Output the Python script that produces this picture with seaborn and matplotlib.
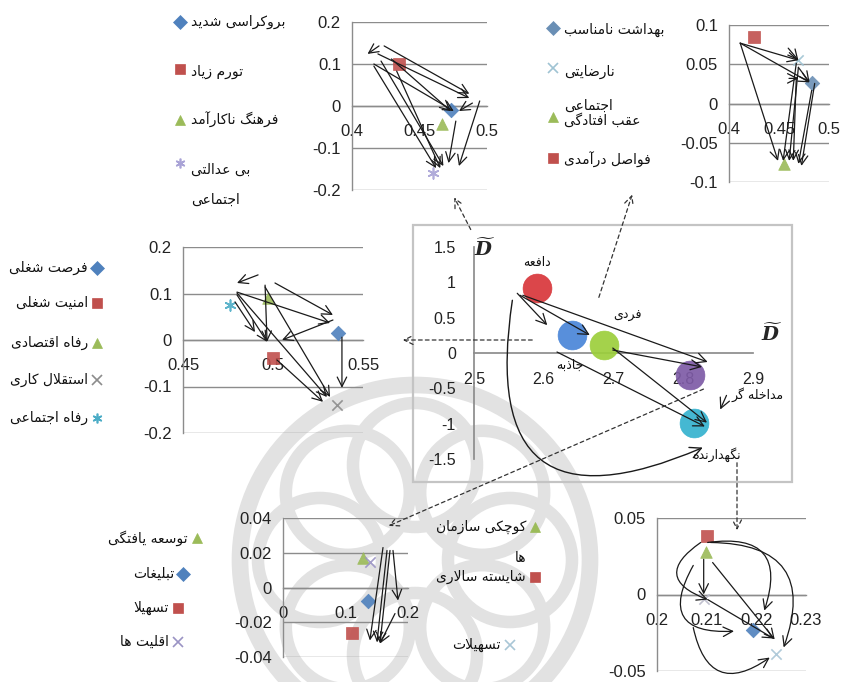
import matplotlib
matplotlib.use('Agg')
import numpy as np
import pandas as pd
import matplotlib.pyplot as plt
import seaborn as sns
from matplotlib.lines import Line2D
from matplotlib.patches import FancyArrowPatch, Rectangle, Circle

sns.set_theme(style='white')
plt.rcParams['font.family'] = ['Liberation Sans', 'DejaVu Sans']
plt.rcParams['mathtext.fontset'] = 'custom'
plt.rcParams['mathtext.bf'] = 'DejaVu Serif:italic:bold'
plt.rcParams['mathtext.rm'] = 'DejaVu Serif'
plt.rcParams['mathtext.it'] = 'DejaVu Serif:italic'

# ------------------------------------------------------------------ data
BLUE, RED, GREEN, PURPLE, TEAL, GREYX = '#4F81BD', '#C0504D', '#9BBB59', '#A9A3D6', '#4BACC6', '#8C8C8C'

# central chart
c_labels = ['دافعه', 'جاذبه', 'فردی', 'مداخله گر', 'نگهدارنده']
c_x = [2.59, 2.64, 2.687, 2.809, 2.816]
c_y = [0.92, 0.25, 0.11, -0.31, -0.985]
c_colors = ['#D8363A', '#4A86D8', '#9CCF3C', '#7E5BA6', '#35B2CF']
c_xticks = [2.5, 2.6, 2.7, 2.8, 2.9]
c_yticks = [1.5, 1, 0.5, 0, -0.5, -1, -1.5]
c_arrows = [(2.562, 0.845, 2.605, 0.394), (2.566, 0.817, 2.666, 0.254),
            (2.570, 0.817, 2.835, -0.127), (2.699, 0.042, 2.827, -0.197),
            (2.699, 0.07, 2.834, -0.986), (2.619, 0.014, 2.831, -1.04),
            (2.862, -0.60, 2.853, -0.80)]
c_curve = (2.555, 0.746, 2.828, -1.338)

# panel 1 (top middle)
p1_labels = ['بروکراسی شدید', 'تورم زیاد', 'فرهنگ ناکارآمد', 'بی عدالتی\nاجتماعی']
p1_x = [0.4731, 0.4346, 0.4669, 0.460]
p1_y = [-0.0095, 0.100, -0.043, -0.160]
p1_markers = ['D', 's', '^', (6, 2, 0)]
p1_colors = [BLUE, RED, GREEN, PURPLE]
p1_xticks = [0.4, 0.45, 0.5]
p1_yticks = [0.2, 0.1, 0, -0.1, -0.2]
p1_arrows = [(0.420, 0.143, 0.4115, 0.124), (0.4238, 0.143, 0.4869, 0.029),
             (0.4192, 0.124, 0.4869, 0.019), (0.4162, 0.100, 0.4754, -0.012),
             (0.4292, 0.112, 0.4731, -0.012), (0.4162, 0.095, 0.4623, -0.148),
             (0.4215, 0.107, 0.4677, -0.143), (0.4331, 0.083, 0.4654, -0.148),
             (0.4946, 0.012, 0.4792, -0.143), (0.4769, -0.036, 0.4715, -0.136),
             (0.4892, 0.007, 0.4792, -0.012)]

# panel 2 (top right)
p2_labels = ['بهداشت نامناسب', 'نارضایتی', 'اجتماعی\nعقب افتادگی', 'فواصل درآمدی']
p2_x = [0.4827, 0.4694, 0.4551, 0.4245]
p2_y = [0.0256, 0.055, -0.077, 0.0846]
p2_markers = ['D', 'x', '^', 's']
p2_colors = ['#6A8FB5', '#9FC3D3', GREEN, RED]
p2_xticks = [0.4, 0.45, 0.5]
p2_yticks = [0.1, 0.05, 0, -0.05, -0.1]
p2_arrows = [(0.4112, 0.0769, 0.4694, 0.0551), (0.4112, 0.0769, 0.4806, 0.0269),
             (0.4112, 0.0769, 0.4490, -0.0731), (0.4592, 0.0705, 0.4694, 0.0550),
             (0.4673, 0.0513, 0.4541, -0.0731), (0.4694, 0.0462, 0.4602, -0.0731),
             (0.4694, 0.0460, 0.4806, 0.0270), (0.4600, 0.0320, 0.4694, 0.0320),
             (0.4827, 0.0167, 0.4694, -0.0769), (0.4857, 0.0256, 0.4724, -0.0795),
             (0.4673, 0.0330, 0.4643, -0.0730)]

# panel 3 (middle left)
p3_labels = ['فرصت شغلی', 'امنیت شغلی', 'رفاه اقتصادی', 'استقلال کاری', 'رفاه اجتماعی']
p3_x = [0.5361, 0.500, 0.4972, 0.5356, 0.4761]
p3_y = [0.015, -0.039, 0.090, -0.140, 0.075]
p3_markers = ['D', 's', '^', 'x', (6, 2, 0)]
p3_colors = [BLUE, RED, GREEN, GREYX, TEAL]
p3_xticks = [0.45, 0.5, 0.55]
p3_yticks = [0.2, 0.1, 0, -0.1, -0.2]
p3_arrows = [(0.4917, 0.140, 0.4800, 0.1226), (0.5011, 0.1226, 0.5333, 0.0538),
             (0.4800, 0.103, 0.5317, 0.0366), (0.4789, 0.082, 0.4900, 0.017),
             (0.4800, 0.097, 0.4967, -0.004), (0.4800, 0.101, 0.5300, -0.1226),
             (0.4956, 0.118, 0.4967, -0.004), (0.4956, 0.114, 0.5317, -0.1226),
             (0.5333, 0.043, 0.5050, 0.000), (0.5383, 0.006, 0.5383, -0.103),
             (0.5022, -0.043, 0.5278, -0.133)]

# panel 4 (bottom left)
p4_labels = ['توسعه یافتگی', 'تبلیغات', 'تسهیلا', 'اقلیت ها']
p4_x = [0.128, 0.136, 0.110, 0.139]
p4_y = [0.0167, -0.0075, -0.026, 0.0144]
p4_markers = ['^', 'D', 's', 'x']
p4_colors = [GREEN, BLUE, RED, '#9A93C4']
p4_xticks = [0, 0.1, 0.2]
p4_yticks = [0.04, 0.02, 0, -0.02, -0.04]
p4_arrows = [(0.160, 0.023, 0.139, -0.0305), (0.1664, 0.0213, 0.1504, -0.0316),
             (0.176, 0.0213, 0.184, -0.0075), (0.1792, -0.015, 0.1552, -0.0322),
             (0.1712, 0.0213, 0.1552, -0.0322)]

# panel 5 (bottom right)
p5_labels = ['کوچکی سازمان\nها', 'شایسته سالاری', '', 'تسهیلات', '']
p5_x = [0.2098, 0.2100, 0.2194, 0.2240, 0.2094]
p5_y = [0.028, 0.038, -0.023, -0.039, -0.003]
p5_markers = ['^', 's', 'D', 'x', 'x']
p5_colors = [GREEN, RED, BLUE, '#A9C6D6', '#B9B9C9']
p5_xticks = [0.2, 0.21, 0.22, 0.23]
p5_yticks = [0.05, 0, -0.05]
p5_arrows = [(0.2094, 0.023, 0.2094, 0.0), (0.2112, 0.0209, 0.2237, -0.0294),
             (0.2102, -0.0033, 0.2235, -0.0288)]
p5_curves = [(0.2102, 0.034, 0.2216, -0.0105, -0.8), (0.2108, 0.034, 0.2255, -0.0346, -0.7),
             (0.2088, 0.034, 0.2102, -0.0033, 0.95), (0.2073, 0.019, 0.2155, -0.024, 0.9),
             (0.2073, -0.0216, 0.2227, -0.0412, 0.75)]

# ------------------------------------------------------------------ helpers
_F = {
 'ا': ('\uFE8D', '\uFE8E', None, None), 'آ': ('\uFE81', '\uFE82', None, None),
 'ب': ('\uFE8F', '\uFE90', '\uFE91', '\uFE92'), 'پ': ('\uFB56', '\uFB57', '\uFB58', '\uFB59'),
 'ت': ('\uFE95', '\uFE96', '\uFE97', '\uFE98'), 'ث': ('\uFE99', '\uFE9A', '\uFE9B', '\uFE9C'),
 'ج': ('\uFE9D', '\uFE9E', '\uFE9F', '\uFEA0'), 'چ': ('\uFB7A', '\uFB7B', '\uFB7C', '\uFB7D'),
 'ح': ('\uFEA1', '\uFEA2', '\uFEA3', '\uFEA4'), 'خ': ('\uFEA5', '\uFEA6', '\uFEA7', '\uFEA8'),
 'د': ('\uFEA9', '\uFEAA', None, None), 'ذ': ('\uFEAB', '\uFEAC', None, None),
 'ر': ('\uFEAD', '\uFEAE', None, None), 'ز': ('\uFEAF', '\uFEB0', None, None),
 'ژ': ('\uFB8A', '\uFB8B', None, None),
 'س': ('\uFEB1', '\uFEB2', '\uFEB3', '\uFEB4'), 'ش': ('\uFEB5', '\uFEB6', '\uFEB7', '\uFEB8'),
 'ص': ('\uFEB9', '\uFEBA', '\uFEBB', '\uFEBC'), 'ض': ('\uFEBD', '\uFEBE', '\uFEBF', '\uFEC0'),
 'ط': ('\uFEC1', '\uFEC2', '\uFEC3', '\uFEC4'), 'ظ': ('\uFEC5', '\uFEC6', '\uFEC7', '\uFEC8'),
 'ع': ('\uFEC9', '\uFECA', '\uFECB', '\uFECC'), 'غ': ('\uFECD', '\uFECE', '\uFECF', '\uFED0'),
 'ف': ('\uFED1', '\uFED2', '\uFED3', '\uFED4'), 'ق': ('\uFED5', '\uFED6', '\uFED7', '\uFED8'),
 'ک': ('\uFB8E', '\uFB8F', '\uFB90', '\uFB91'), 'گ': ('\uFB92', '\uFB93', '\uFB94', '\uFB95'),
 'ل': ('\uFEDD', '\uFEDE', '\uFEDF', '\uFEE0'), 'م': ('\uFEE1', '\uFEE2', '\uFEE3', '\uFEE4'),
 'ن': ('\uFEE5', '\uFEE6', '\uFEE7', '\uFEE8'), 'و': ('\uFEED', '\uFEEE', None, None),
 'ه': ('\uFEE9', '\uFEEA', '\uFEEB', '\uFEEC'), 'ی': ('\uFBFC', '\uFBFD', '\uFBFE', '\uFBFF'),
}
_DUAL = {k for k, v in _F.items() if v[2] is not None}


def fa(s):
    lines = []
    for line in s.split('\n'):
        res, i, n = [], 0, len(line)
        while i < n:
            c = line[i]
            if c not in _F:
                res.append(c); i += 1; continue
            jp = i > 0 and line[i - 1] in _DUAL
            if c == 'ل' and i + 1 < n and line[i + 1] in 'اآ':
                lig = {'ا': ('\uFEFB', '\uFEFC'), 'آ': ('\uFEF5', '\uFEF6')}[line[i + 1]]
                res.append(lig[1] if jp else lig[0]); i += 2; continue
            jn = c in _DUAL and i + 1 < n and line[i + 1] in _F
            iso, fin, ini, med = _F[c]
            res.append(med if jp and jn else fin if jp else ini if jn else iso)
            i += 1
        lines.append(''.join(reversed(res)))
    return '\n'.join(lines)


W, H = 843, 682
fig = plt.figure(figsize=(W / 100, H / 100), dpi=100)
fig.patch.set_facecolor('white')
GRID = '#8C8C8C'
FA_FONT = ['DejaVu Sans']


def FX(px):
    return px / W


def FY(py):
    return 1 - py / H


def axes_px(x0, y0, x1, y1):
    a = fig.add_axes([x0 / W, 1 - y1 / H, (x1 - x0) / W, (y1 - y0) / H])
    a.set_facecolor('none')
    return a


# watermark rosette (light grey rings)
WM = '#e2e2e2'
for ang in np.linspace(0, 2 * np.pi, 8, endpoint=False):
    cx, cy = 415 + 95 * np.cos(ang), 560 + 95 * np.sin(ang)
    fig.add_artist(Circle((cx / 100, (H - cy) / 100), 0.62, transform=fig.dpi_scale_trans,
                          fill=False, lw=9, ec=WM, zorder=-5))
fig.add_artist(Circle((415 / 100, (H - 560) / 100), 1.75, transform=fig.dpi_scale_trans,
                      fill=False, lw=12, ec=WM, zorder=-5))


def style_panel(ax, xlim, ylim, xt, yt, fs=12):
    ax.set_xlim(*xlim); ax.set_ylim(*ylim)
    for s in ['top', 'right']:
        ax.spines[s].set_visible(False)
    ax.spines['left'].set_color(GRID); ax.spines['left'].set_linewidth(1.0)
    ax.spines['bottom'].set_position(('data', 0))
    ax.spines['bottom'].set_color(GRID); ax.spines['bottom'].set_linewidth(1.0)
    ax.set_xticks(xt); ax.set_xticklabels([f'{v:g}' for v in xt])
    ax.set_yticks(yt); ax.set_yticklabels([f'{v:g}' for v in yt])
    ax.grid(False)
    ax.yaxis.grid(True, color=GRID, lw=1.0)
    ax.tick_params(axis='x', length=3, color=GRID, pad=10, labelsize=fs, labelcolor='#222222')
    ax.tick_params(axis='y', length=0, pad=8, labelsize=fs, labelcolor='#222222')
    ax.set_xlabel(''); ax.set_ylabel('')


def draw_points(ax, xs, ys, markers, colors):
    for xv, yv, m, c in zip(xs, ys, markers, colors):
        filled = m in ('D', 's', '^')
        size = {'D': 55, 's': 80, '^': 70}.get(m, 55) if not isinstance(m, tuple) else 60
        kw = dict(edgecolor=c, linewidth=0.5) if filled else dict(linewidth=1.2)
        sns.scatterplot(x=[xv], y=[yv], marker=m, color=c, s=size, ax=ax, legend=False,
                        alpha=0.9, zorder=3, **kw)


def draw_arrows(ax, arrows, ms=17):
    for a in arrows:
        x0, y0, x1, y1 = a[:4]
        cs = f'arc3,rad={a[4]}' if len(a) > 4 else 'arc3,rad=0'
        ax.annotate('', xy=(x1, y1), xytext=(x0, y0), annotation_clip=False,
                    arrowprops=dict(arrowstyle='->', color='#1a1a1a', lw=0.9,
                                    mutation_scale=ms, shrinkA=0, shrinkB=0,
                                    connectionstyle=cs), zorder=4)


def legend_px(labels, markers, colors, mx, my, ty, side, gap, fs=10):
    for i, lab in enumerate(labels):
        if not lab:
            continue
        fig.add_artist(Line2D([FX(mx[i])], [FY(my[i])], transform=fig.transFigure, marker=markers[i],
                              color=colors[i], ms=7, ls='',
                              mew=1.2 if markers[i] == 'x' or isinstance(markers[i], tuple) else 0.5))
        for k, line in enumerate(lab.split('\n')):
            if side == 'right':
                fig.text(FX(mx[i] + 11), FY(ty[i] + k * gap), fa(line), ha='left', va='center',
                         fontsize=fs, family=FA_FONT, color='#111111')
            else:
                fig.text(FX(mx[i] - 9), FY(ty[i] + k * gap), fa(line), ha='right', va='center',
                         fontsize=fs, family=FA_FONT, color='#111111')


# ------------------------------------------------------------------ panel 1
ax1 = axes_px(352, 22, 487, 190)
draw_points(ax1, p1_x, p1_y, p1_markers, p1_colors)
draw_arrows(ax1, p1_arrows)
style_panel(ax1, (0.4, 0.5), (-0.2, 0.2), p1_xticks, p1_yticks)
legend_px(p1_labels, p1_markers, p1_colors, [180] * 4, [22, 69, 120, 163], [22, 72, 120, 170], 'right', 30)

# ------------------------------------------------------------------ panel 2
ax2 = axes_px(729, 25, 829, 182)
draw_points(ax2, p2_x, p2_y, p2_markers, p2_colors)
draw_arrows(ax2, p2_arrows)
style_panel(ax2, (0.4, 0.5), (-0.1, 0.1), p2_xticks, p2_yticks)
legend_px(p2_labels, p2_markers, p2_colors, [553] * 4, [28, 68, 117, 158], [30, 72, 106, 160], 'right', 14)

# ------------------------------------------------------------------ panel 3
ax3 = axes_px(183, 247, 363, 433)
draw_points(ax3, p3_x, p3_y, p3_markers, p3_colors)
draw_arrows(ax3, p3_arrows)
style_panel(ax3, (0.45, 0.55), (-0.2, 0.2), p3_xticks, p3_yticks)
legend_px(p3_labels, p3_markers, p3_colors, [97] * 5, [268, 303, 343, 380, 418], [268, 303, 343, 380, 418], 'left', 0)

# ------------------------------------------------------------------ panel 4
ax4 = axes_px(283, 518, 408, 657)
draw_points(ax4, p4_x, p4_y, p4_markers, p4_colors)
draw_arrows(ax4, p4_arrows)
style_panel(ax4, (0, 0.2), (-0.04, 0.04), p4_xticks, p4_yticks)
legend_px(p4_labels, p4_markers, p4_colors, [197, 183, 178, 178], [538, 574, 608, 642], [538, 574, 608, 642], 'left', 0)

# ------------------------------------------------------------------ panel 5
ax5 = axes_px(657, 518, 806, 671)
draw_points(ax5, p5_x, p5_y, p5_markers, p5_colors)
draw_arrows(ax5, p5_arrows)
draw_arrows(ax5, p5_curves)
style_panel(ax5, (0.2, 0.23), (-0.05, 0.05), p5_xticks, p5_yticks)
legend_px(p5_labels, p5_markers, p5_colors, [535, 535, 0, 510, 0], [527, 577, 0, 645, 0], [527, 577, 0, 645, 0], 'left', 31)

# ------------------------------------------------------------------ central chart
fig.add_artist(Rectangle((FX(413), FY(482)), (792 - 413) / W, (482 - 225) / H, transform=fig.transFigure,
                         fill=False, ec='#c4c4c4', lw=1.6, zorder=1))
axc = axes_px(474, 247, 753, 459)
for xv, yv, col in zip(c_x, c_y, c_colors):
    sns.scatterplot(x=[xv], y=[yv], s=430, color=col, alpha=0.92, edgecolor=col, linewidth=0.5,
                    ax=axc, legend=False, zorder=3)
draw_arrows(axc, c_arrows, ms=18)
axc.annotate('', xy=c_curve[2:], xytext=c_curve[:2], annotation_clip=False,
             arrowprops=dict(arrowstyle='->', color='#1a1a1a', lw=1.0, mutation_scale=20,
                             shrinkA=0, shrinkB=0, connectionstyle='arc3,rad=0.9'), zorder=4)
axc.set_xlim(2.5, 2.9); axc.set_ylim(-1.5, 1.5)
for s in ['top', 'right']:
    axc.spines[s].set_visible(False)
axc.spines['left'].set_color(GRID)
axc.spines['bottom'].set_position(('data', 0)); axc.spines['bottom'].set_color(GRID)
axc.set_xticks(c_xticks); axc.set_xticklabels([f'{v:g}' for v in c_xticks])
axc.set_yticks(c_yticks); axc.set_yticklabels([f'{v:g}' for v in c_yticks])
axc.grid(False)
axc.tick_params(axis='both', direction='out', length=4, color=GRID, labelsize=11.5, labelcolor='#222222')
axc.tick_params(axis='x', pad=10)
axc.tick_params(axis='y', pad=9)
axc.set_xlabel(''); axc.set_ylabel('')
offsets = [(0, 25), (-2, -30), (23, 30), (68, -20), (22, -32)]
for lab, xv, yv, off in zip(c_labels, c_x, c_y, offsets):
    axc.annotate(fa(lab), xy=(xv, yv), xytext=(off[0] * 0.72, off[1] * 0.72), textcoords='offset points',
                 ha='center', va='center', fontsize=9, family=FA_FONT, color='#111111')
fig.text(FX(485), FY(249), r'$\widetilde{\mathbf{D}}$', fontsize=14, ha='center', va='center')
fig.text(FX(772), FY(334), r'$\widetilde{\mathbf{D}}$', fontsize=14, ha='center', va='center')

# ------------------------------------------------------------------ dashed connectors
connectors = [((472, 232), (453, 195)), ((598, 300), (633, 192)), ((535, 340), (400, 340)),
              ((706, 388), (386, 527)), ((737, 460), (737, 533))]
for (x0, y0), (x1, y1) in connectors:
    fig.add_artist(FancyArrowPatch((FX(x0), FY(y0)), (FX(x1), FY(y1)), transform=fig.transFigure,
                                   arrowstyle='->', mutation_scale=16, lw=0.9, ls=(0, (3, 2.5)),
                                   color='#333333', zorder=5))

fig.savefig('out.png', dpi=100, facecolor='white')
